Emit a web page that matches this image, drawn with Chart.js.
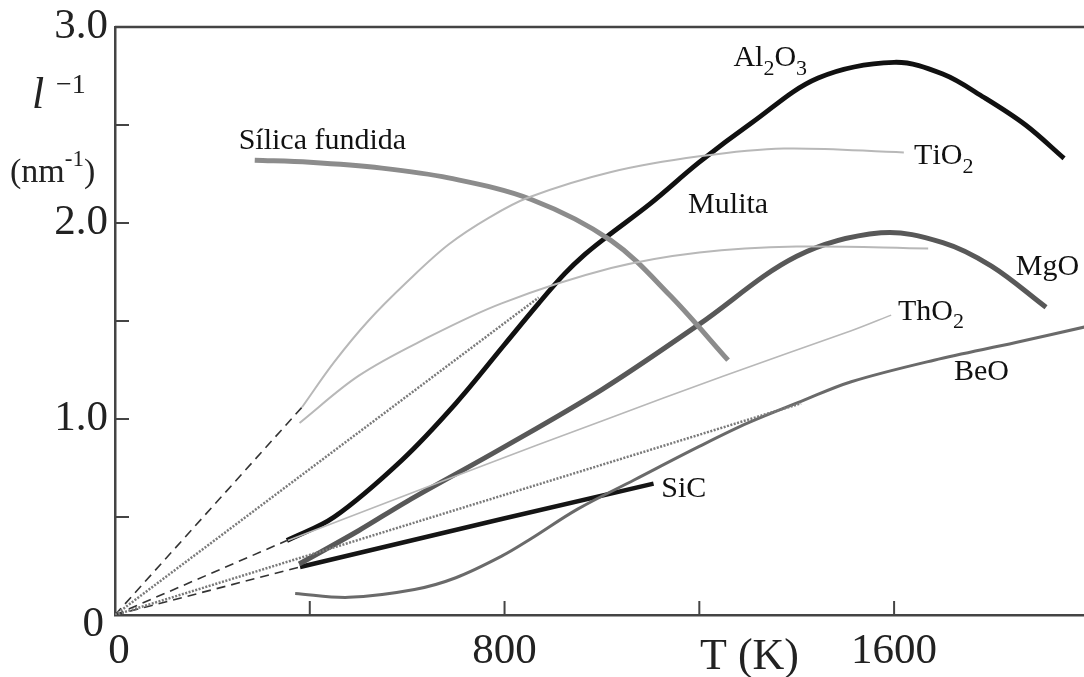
<!DOCTYPE html>
<html>
<head>
<meta charset="utf-8">
<script src="https://cdn.jsdelivr.net/npm/chart.js@4.4.1/dist/chart.umd.min.js"></script>
<style>
html,body{margin:0;padding:0;background:#fff;}
#wrap{width:1084px;height:677px;position:relative;}
</style>
</head>
<body>
<div id="wrap"><canvas id="c" width="1084" height="677"></canvas></div>
<script>
// ---- data (T in K, inverse mean free path in nm^-1) ----
const xTickValues = [0, 400, 800, 1200, 1600];
const xTickLabels = {0: '0', 800: '800', 1600: '1600'};
const yTickValues = [0, 0.5, 1, 1.5, 2, 2.5, 3];
const yTickLabels = {0: '0', 1: '1.0', 2: '2.0', 3: '3.0'};

const al2o3T = [353, 450, 589, 700, 800, 870, 923, 965, 1010, 1100, 1200, 1307, 1444, 1600, 1700, 1785, 1870, 1949];
const al2o3Y = [0.38, 0.50, 0.79, 1.08, 1.38, 1.59, 1.74, 1.84, 1.93, 2.10, 2.31, 2.51, 2.74, 2.82, 2.76, 2.64, 2.50, 2.33];

const tio2T = [384, 450, 520, 600, 685, 770, 849, 1019, 1200, 1374, 1620];
const tio2Y = [1.06, 1.29, 1.50, 1.70, 1.89, 2.03, 2.13, 2.26, 2.34, 2.38, 2.36];

const mulitaT = [379, 500, 630, 794, 1019, 1200, 1400, 1670];
const mulitaY = [0.98, 1.22, 1.40, 1.59, 1.77, 1.85, 1.88, 1.87];

const silicaT = [287, 400, 548, 685, 855, 1019, 1140, 1259];
const silicaY = [2.32, 2.31, 2.28, 2.23, 2.12, 1.91, 1.63, 1.30];

const mgoT = [378, 500, 600, 794, 1000, 1198, 1400, 1573, 1700, 1800, 1912];
const mgoY = [0.26, 0.43, 0.58, 0.85, 1.15, 1.48, 1.83, 1.95, 1.90, 1.78, 1.57];

const tho2T = [355, 732, 1000, 1250, 1512, 1594];
const tho2Y = [0.38, 0.74, 0.99, 1.22, 1.45, 1.53];

const beoT = [370, 480, 615, 700, 794, 855, 950, 1067, 1200, 1300, 1409, 1512, 1682, 1850, 1992];
const beoY = [0.11, 0.09, 0.13, 0.19, 0.30, 0.39, 0.54, 0.69, 0.86, 0.98, 1.09, 1.19, 1.30, 1.39, 1.47];

const sicT = [380, 794, 1106];
const sicY = [0.245, 0.49, 0.67];

// low-temperature extrapolations from the origin
const dashTiO2T = [0, 384];   const dashTiO2Y = [0, 1.06];
const dashAlT   = [0, 353];   const dashAlY   = [0, 0.38];
const dashSiCT  = [0, 380];   const dashSiCY  = [0, 0.245];
const dotUpperT = [0, 870];   const dotUpperY = [0, 1.62];
const dotLowerT = [0, 1409];  const dotLowerY = [0, 1.08];

// curve labels
const labelTexts = ['Al2O3', 'TiO2', 'Mulita', 'MgO', 'ThO2', 'BeO', 'SiC', 'Sílica fundida'];
const labelT     = [1270, 1641, 1177, 1850, 1608, 1723, 1122, 254];
const labelY     = [2.80, 2.30, 2.05, 1.735, 1.505, 1.20, 0.60, 2.38];

const SERIF = '"Liberation Serif", "DejaVu Serif", serif';

function pts(xs, ys) { return xs.map((x, i) => ({x: x, y: ys[i]})); }

function ds(xs, ys, color, width, opts) {
  return Object.assign({
    data: pts(xs, ys), borderColor: color, borderWidth: width,
    pointRadius: 0, fill: false, tension: 0.35,
    borderCapStyle: 'butt', borderJoinStyle: 'round'
  }, opts || {});
}

const datasets = [
  ds(dotUpperT, dotUpperY, '#7a7a7a', 2.5, {borderDash: [2, 1.5], tension: 0}),
  ds(dotLowerT, dotLowerY, '#7a7a7a', 2.5, {borderDash: [2, 1.5], tension: 0}),
  ds(dashTiO2T, dashTiO2Y, '#333', 1.6, {borderDash: [9, 6], tension: 0}),
  ds(dashAlT, dashAlY, '#333', 1.6, {borderDash: [9, 6], tension: 0}),
  ds(dashSiCT, dashSiCY, '#333', 1.6, {borderDash: [9, 6], tension: 0}),
  ds(tio2T, tio2Y, '#b8b8b8', 2),
  ds(mulitaT, mulitaY, '#b8b8b8', 2),
  ds(tho2T, tho2Y, '#b8b8b8', 1.6),
  ds(beoT, beoY, '#6a6a6a', 3),
  ds(silicaT, silicaY, '#8c8c8c', 5),
  ds(mgoT, mgoY, '#585858', 5),
  ds(sicT, sicY, '#151515', 4.5, {tension: 0}),
  ds(al2o3T, al2o3Y, '#111', 4.8)
];

function drawFormula(ctx, text, x, y, size) {
  // digits are drawn as subscripts
  let cx = x;
  for (const ch of text) {
    if (/[0-9]/.test(ch)) {
      ctx.font = Math.round(size * 0.72) + 'px ' + SERIF;
      ctx.fillText(ch, cx, y + size * 0.28);
      cx += ctx.measureText(ch).width;
    } else {
      ctx.font = size + 'px ' + SERIF;
      ctx.fillText(ch, cx, y);
      cx += ctx.measureText(ch).width;
    }
  }
}

const decor = {
  id: 'decor',
  afterDatasetsDraw(chart) {
    const ctx = chart.ctx, xs = chart.scales.x, ys = chart.scales.y, a = chart.chartArea;
    ctx.save();
    // top frame line
    ctx.strokeStyle = '#444'; ctx.lineWidth = 2.5;
    ctx.beginPath(); ctx.moveTo(a.left, a.top); ctx.lineTo(a.right, a.top); ctx.stroke();
    // inward ticks
    ctx.lineWidth = 2;
    xTickValues.forEach(v => {
      if (v === 0) return;
      const px = xs.getPixelForValue(v);
      ctx.beginPath(); ctx.moveTo(px, a.bottom); ctx.lineTo(px, a.bottom - 14); ctx.stroke();
    });
    yTickValues.forEach(v => {
      if (v === 0 || v === 3) return;
      const py = ys.getPixelForValue(v);
      ctx.beginPath(); ctx.moveTo(a.left, py); ctx.lineTo(a.left + 14, py); ctx.stroke();
    });
    // x tick labels
    ctx.fillStyle = '#222'; ctx.textAlign = 'center'; ctx.textBaseline = 'alphabetic';
    ctx.font = '43px ' + SERIF;
    Object.keys(xTickLabels).forEach(k => {
      const v = Number(k);
      ctx.fillText(xTickLabels[k], xs.getPixelForValue(v) + (v === 0 ? 4 : 0), a.bottom + 48);
    });
    // y tick labels
    ctx.textAlign = 'right'; ctx.textBaseline = 'middle';
    Object.keys(yTickLabels).forEach(k => {
      const v = Number(k);
      const py = ys.getPixelForValue(v) + (v === 0 ? 10 : 0);
      ctx.fillText(yTickLabels[k], a.left - (v === 0 ? 11 : 7), py);
    });
    // curve labels
    ctx.fillStyle = '#111'; ctx.textAlign = 'left'; ctx.textBaseline = 'alphabetic';
    labelTexts.forEach((t, i) => {
      drawFormula(ctx, t, xs.getPixelForValue(labelT[i]), ys.getPixelForValue(labelY[i]), 30);
    });
    // axis titles
    ctx.fillStyle = '#222';
    ctx.font = 'italic 44px ' + SERIF;
    ctx.fillText('l', 32, 108);
    ctx.font = '28px ' + SERIF;
    ctx.fillText('\u22121', 56, 93);
    ctx.font = '34px ' + SERIF;
    let cx = 10;
    ctx.fillText('(nm', cx, 182); cx += ctx.measureText('(nm').width;
    ctx.font = '23px ' + SERIF;
    ctx.fillText('-1', cx, 166); cx += ctx.measureText('-1').width;
    ctx.font = '34px ' + SERIF;
    ctx.fillText(')', cx, 182);
    ctx.font = '44px ' + SERIF;
    ctx.fillText('T (K)', 700, 669);
    ctx.restore();
  }
};

new Chart(document.getElementById('c'), {
  type: 'line',
  data: {datasets: datasets},
  options: {
    responsive: false, animation: false,
    layout: {padding: {top: 27, right: 0, bottom: 0, left: 0}},
    plugins: {legend: {display: false}, tooltip: {enabled: false}},
    scales: {
      x: {
        type: 'linear', min: 0, max: 1990,
        afterFit: s => { s.height = 62; },
        grid: {display: false, drawTicks: false},
        border: {display: true, color: '#444', width: 2.5},
        ticks: {display: false, stepSize: 400}
      },
      y: {
        type: 'linear', min: 0, max: 3,
        afterFit: s => { s.width = 115; },
        grid: {display: false, drawTicks: false},
        border: {display: true, color: '#444', width: 2.5},
        ticks: {display: false, stepSize: 0.5}
      }
    }
  },
  plugins: [decor]
});
</script>
</body>
</html>
